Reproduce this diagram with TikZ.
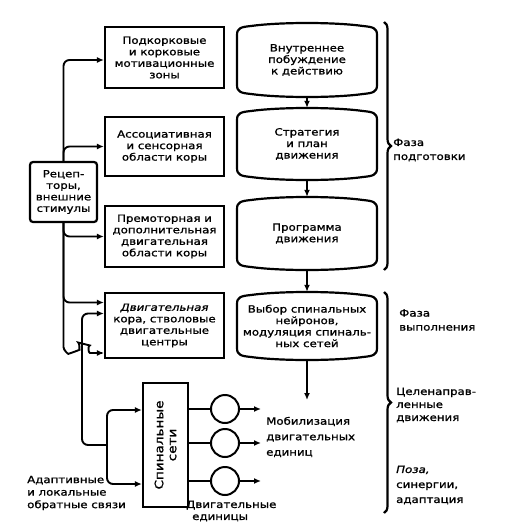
\documentclass[tikz,border=0pt]{standalone}
\usepackage{fontspec}
\setmainfont{DejaVu Sans}[FakeStretch=1.18,FakeBold=1.2]
\usetikzlibrary{arrows.meta,calc,decorations.pathreplacing}
\newcommand\barrel[4]{%
 \node[btext,minimum width=140pt,minimum height={(#3-#2)*1pt}] (#1) at (307,{-(#2+#3)/2}) {#4};
 \draw[bshape] (237,{-#2-12}) -- (237,{12-#3})
   .. controls (237,{5-#3}) and (241,{4-#3}) .. (251,{3-#3})
   .. controls (280,{-1-#3}) and (334,{-1-#3}) .. (363,{3-#3})
   .. controls (373,{4-#3}) and (377,{5-#3}) .. (377,{12-#3})
   -- (377,{-#2-12})
   .. controls (377,{-#2-5}) and (373,{-#2-4}) .. (363,{-#2-3})
   .. controls (334,{-#2+1}) and (280,{-#2+1}) .. (251,{-#2-3})
   .. controls (241,{-#2-4}) and (237,{-#2-5}) .. (237,{-#2-12}) -- cycle;
}
\begin{document}
\begin{tikzpicture}[x=1pt,y=1pt,
 box/.style={draw,line width=2.2pt,inner sep=1pt,align=center,font=\fontsize{10}{11.5}\selectfont},
 btext/.style={inner sep=0pt,align=center,font=\fontsize{10}{11.5}\selectfont},
 lab/.style={inner sep=0pt,align=left,anchor=west,font=\fontsize{10}{14}\selectfont},
 conn/.style={line width=1.9pt,rounded corners=6pt},
 arr/.style={conn,-{Latex[length=7pt,width=6pt]}},
 bshape/.style={line width=2.2pt},
 circ/.style={draw,circle,line width=2pt,minimum size=28pt,inner sep=0pt},
 brc/.style={line width=2.2pt,decorate,decoration={brace,amplitude=7pt}}]
\useasboundingbox (0,0) rectangle (513,-530);

% left boxes
\node[box,minimum width=119pt,minimum height=61pt] (b1) at (164.5,-57.5) {Подкорковые\\и корковые\\мотивационные\\зоны};
\node[box,minimum width=119pt,minimum height=59pt] (b2) at (164.5,-146.5) {Ассоциативная\\и сенсорная\\области коры};
\node[box,minimum width=119pt,minimum height=61pt] (b3) at (164.5,-236.5) {Премоторная и\\дополнительная\\двигательная\\области коры};
\node[box,minimum width=119pt,minimum height=65pt] (b4) at (164.5,-325.5) {\textit{Двигательная}\\кора, стволовые\\двигательные\\центры};
\node[box,rounded corners=3pt,minimum width=67pt,minimum height=60pt] (rec) at (63.5,-192) {Рецеп-\\торы,\\внешние\\стимулы};

% right barrels
\barrel{A}{23}{97}{Внутреннее\\побуждение\\к действию}
\barrel{B}{108}{180}{Стратегия\\и план\\движения}
\barrel{C}{197}{270}{Программа\\движения}
\barrel{D}{292}{360}{Выбор спинальных\\нейронов,\\модуляция спиналь-\\ных сетей}

\coordinate (dend) at (307,-400);
\draw[arr] (A.south) -- (B.north);
\draw[arr] (B.south) -- (C.north);
\draw[arr] (C.south) -- (D.north);
\draw[arr] (D.south) -- (dend);

% spinal networks
\node[draw,line width=2.2pt,minimum width=45pt,minimum height=124pt,inner sep=0pt] (sp) at (165.5,-445) {};
\node[rotate=90,align=center,inner sep=0pt,font=\fontsize{11.5}{13}\selectfont] (spt) at (sp) {Спинальные\\сети};

\node[circ] (c1) at (225,-409) {};
\node[circ] (c2) at (225,-443) {};
\node[circ] (c3) at (225,-481) {};
\coordinate (e1) at (261,-409);
\coordinate (e2) at (261,-443);
\coordinate (e3) at (261,-481);
\draw[conn] (sp.east |- c1) -- (c1.west);
\draw[conn] (sp.east |- c2) -- (c2.west);
\draw[conn] (sp.east |- c3) -- (c3.west);
\draw[arr] (c1.east) -- (e1);
\draw[arr] (c2.east) -- (e2);
\draw[arr] (c3.east) -- (e3);

% receptor connectors
\draw[arr] (rec.north) |- ($(b1.west)+(0,-2.5)$);
\draw[arr] (rec.north) |- (b2.west);
\draw[arr] (rec.south) |- (b3.west);
\draw[arr] (rec.south) |- ($(b4.west)+(0,23)$);
\coordinate (w0) at ($(rec.south)+(0,-118)$);
\draw[arr] (rec.south) -- (w0)
  .. controls (63.5,-350) and (68,-354) .. (74,-352)
  .. controls (79,-350) and (80,-343) .. (84,-344)
  .. controls (88,-345) and (88,-353) .. (96,-353)
  -- ($(b4.west)+(0,-27.5)$);

% feedback loop
\coordinate (j) at (107,-445);
\coordinate (k) at (82,-445);
\draw[arr] (j) |- ($(sp.west)+(0,35)$);
\draw[arr] (j) |- ($(sp.west)+(0,-39)$);
\draw[arr] (j) -- (k) |- ($(b4.west)+(0,12)$);

% braces
\coordinate (br1a) at (384,-22);
\coordinate (br1b) at (384,-270);
\coordinate (br2a) at (384,-292);
\coordinate (br2b) at (384,-513);
\draw[brc] (br1a) -- (br1b);
\draw[brc] (br2a) -- (br2b);

% labels
\node[lab] (l1) at (393,-150) {Фаза\\подготовки};
\node[lab] (l2) at (399,-320) {Фаза\\выполнения};
\node[lab,font=\fontsize{10}{13}\selectfont] (l3) at (396,-405) {Целенаправ-\\ленные\\движения};
\node[lab,font=\fontsize{10}{15}\selectfont] (l4) at (396,-485) {\textit{Поза,}\\синергии,\\адаптация};
\node[lab,font=\fontsize{10}{15.5}\selectfont] (l5) at (266,-437) {Мобилизация\\двигательных\\единиц};
\node[lab,font=\fontsize{10}{12.5}\selectfont] (l6) at (27,-493) {Адаптивные\\и локальные\\обратные связи};
\node[lab,font=\fontsize{10}{12}\selectfont] (l7) at (186,-511) {Двигательные\\\hspace*{6pt}единицы};
\end{tikzpicture}
\end{document}
